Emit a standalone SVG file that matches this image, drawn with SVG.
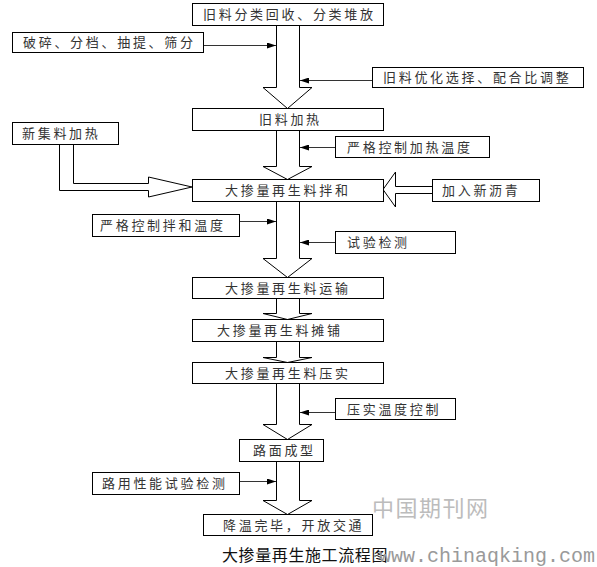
<svg xmlns="http://www.w3.org/2000/svg" width="597" height="567" viewBox="0 0 597 567">
<defs>
<style>
.box{fill:#fff;stroke:#000;stroke-width:1}
.big{fill:#fff;stroke:#000;stroke-width:1;stroke-linejoin:miter}
.ln{stroke:#333;stroke-width:1;fill:none}
.t{font-family:"Noto Sans CJK SC","Noto Sans CJK JP",sans-serif;font-size:13px;letter-spacing:2.7px;fill:#333}
.title{font-family:"Noto Sans CJK SC",sans-serif;font-size:16px;letter-spacing:0.6px;fill:#111}
.wm{font-family:"Noto Sans CJK SC",sans-serif;font-size:22px;letter-spacing:1.5px;fill:#bcbcbc}
.wm2{font-family:"Liberation Mono",monospace;font-size:20px;fill:#9a9a9a}
</style>
<marker id="ah" markerUnits="userSpaceOnUse" markerWidth="9" markerHeight="6" refX="9" refY="3" orient="auto">
<path d="M0,0 L9,3 L0,6 z" fill="#000"/>
</marker>
</defs>
<rect width="597" height="567" fill="#fff"/>
<g id="connectors">
<polygon class="big" points="276.5,25.5 276.5,87.5 263,87.5 287.5,108.5 312,87.5 299.5,87.5 299.5,25.5"/>
<polygon class="big" points="276.5,130.5 276.5,166.5 263,166.5 287.5,179.5 312,166.5 299.5,166.5 299.5,130.5"/>
<polygon class="big" points="276.5,201.5 276.5,258.5 263,258.5 287.5,277.5 312,258.5 299.5,258.5 299.5,201.5"/>
<polygon class="big" points="276.5,298.5 276.5,313.5 263,313.5 287.5,319.5 312,313.5 299.5,313.5 299.5,298.5"/>
<polygon class="big" points="276.5,341.5 276.5,357.5 263,357.5 287.5,362.5 312,357.5 299.5,357.5 299.5,341.5"/>
<polygon class="big" points="276.5,383.5 276.5,424.5 263,424.5 287.5,439.5 312,424.5 299.5,424.5 299.5,383.5"/>
<polygon class="big" points="276.5,461.5 276.5,500.5 263,500.5 287.5,514.5 312,500.5 299.5,500.5 299.5,461.5"/>
<polygon class="big" points="59.5,144.5 59.5,190.5 148.5,190.5 148.5,197 192,187 148.5,177 148.5,183.5 73.5,183.5 73.5,144.5"/>
<polygon class="big" points="432.5,186.5 395.5,186.5 395.5,172 383,189.5 395.5,207 395.5,193.5 432.5,193.5"/>
<line class="ln" x1="203.5" y1="45.5" x2="276" y2="45.5" marker-end="url(#ah)"/>
<line class="ln" x1="372.5" y1="80.5" x2="300" y2="80.5" marker-end="url(#ah)"/>
<line class="ln" x1="335.5" y1="147.5" x2="300" y2="147.5" marker-end="url(#ah)"/>
<line class="ln" x1="239.5" y1="221.5" x2="276" y2="221.5" marker-end="url(#ah)"/>
<line class="ln" x1="335.5" y1="242.5" x2="300" y2="242.5" marker-end="url(#ah)"/>
<line class="ln" x1="335.5" y1="412.5" x2="300" y2="412.5" marker-end="url(#ah)"/>
<line class="ln" x1="239.5" y1="481.5" x2="276" y2="481.5" marker-end="url(#ah)"/>
</g>
<g id="n1"><rect class="box" x="192.5" y="3.5" width="191" height="22"/><text class="t" x="203" y="19">旧料分类回收、分类堆放</text></g>
<g id="n2"><rect class="box" x="12.5" y="32.5" width="191" height="20"/><text class="t" x="23" y="47">破碎、分档、抽提、筛分</text></g>
<g id="n3"><rect class="box" x="372.5" y="67.5" width="211" height="20"/><text class="t" x="383" y="82">旧料优化选择、配合比调整</text></g>
<g id="n4"><rect class="box" x="192.5" y="108.5" width="191" height="22"/><text class="t" x="259" y="124">旧料加热</text></g>
<g id="n5"><rect class="box" x="12.5" y="122.5" width="106" height="22"/><text class="t" x="22" y="138">新集料加热</text></g>
<g id="n6"><rect class="box" x="335.5" y="136.5" width="154" height="21"/><text class="t" x="347" y="152">严格控制加热温度</text></g>
<g id="n7"><rect class="box" x="192.5" y="179.5" width="191" height="22"/><text class="t" x="225" y="195">大掺量再生料拌和</text></g>
<g id="n8"><rect class="box" x="432.5" y="179.5" width="107" height="22"/><text class="t" x="442" y="195">加入新沥青</text></g>
<g id="n9"><rect class="box" x="92.5" y="214.5" width="147" height="22"/><text class="t" x="100" y="230">严格控制拌和温度</text></g>
<g id="n10"><rect class="box" x="335.5" y="231.5" width="120" height="22"/><text class="t" x="347" y="247">试验检测</text></g>
<g id="n11"><rect class="box" x="192.5" y="277.5" width="191" height="21"/><text class="t" x="225" y="293">大掺量再生料运输</text></g>
<g id="n12"><rect class="box" x="192.5" y="319.5" width="191" height="22"/><text class="t" x="217" y="335">大掺量再生料摊铺</text></g>
<g id="n13"><rect class="box" x="192.5" y="362.5" width="191" height="21"/><text class="t" x="225" y="378">大掺量再生料压实</text></g>
<g id="n14"><rect class="box" x="335.5" y="398.5" width="120" height="21"/><text class="t" x="347" y="414">压实温度控制</text></g>
<g id="n15"><rect class="box" x="239.5" y="439.5" width="84" height="22"/><text class="t" x="253" y="455">路面成型</text></g>
<g id="n16"><rect class="box" x="92.5" y="472.5" width="147" height="22"/><text class="t" x="102" y="488">路用性能试验检测</text></g>
<g id="n17"><rect class="box" x="203.5" y="514.5" width="169" height="21"/><text class="t" x="223" y="530">降温完毕，开放交通</text></g>
<text class="wm" x="372" y="516">中国期刊网</text>
<text class="title" x="222" y="561">大掺量再生施工流程图</text>
<text class="wm2" x="379" y="562">www.chinaqking.com</text>
</svg>
